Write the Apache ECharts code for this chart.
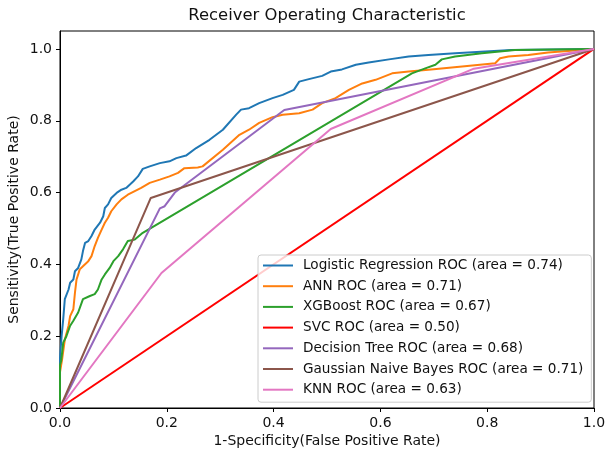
<!DOCTYPE html>
<html>
    <head>
        <meta charset="utf-8">
        <script src="https://cdn.jsdelivr.net/npm/echarts@6/dist/echarts.min.js"></script>
    </head>
    <body style="margin:0">
        <div id="main" style="width: 606px; height: 453px;"></div>
        <script>
            // ROC points (false positive rate, true positive rate)
            var lrX = [0, 0, 0.003, 0.006, 0.009, 0.016, 0.019, 0.025, 0.028, 0.034, 0.04, 0.043, 0.047, 0.053, 0.059, 0.065, 0.075, 0.081, 0.084, 0.09, 0.096, 0.106, 0.115, 0.124, 0.137, 0.146, 0.155, 0.168, 0.187, 0.205, 0.218, 0.236, 0.255, 0.28, 0.305, 0.33, 0.339, 0.354, 0.373, 0.398, 0.417, 0.438, 0.448, 0.466, 0.491, 0.507, 0.528, 0.554, 0.578, 0.616, 0.653, 0.69, 0.74, 0.845, 1];
            var lrY = [0, 0.14, 0.20, 0.247, 0.303, 0.33, 0.349, 0.358, 0.381, 0.39, 0.414, 0.437, 0.46, 0.465, 0.479, 0.497, 0.516, 0.534, 0.557, 0.567, 0.585, 0.599, 0.608, 0.613, 0.631, 0.645, 0.666, 0.673, 0.682, 0.687, 0.696, 0.703, 0.724, 0.747, 0.775, 0.817, 0.831, 0.835, 0.849, 0.863, 0.872, 0.886, 0.909, 0.916, 0.925, 0.937, 0.943, 0.956, 0.962, 0.971, 0.979, 0.983, 0.988, 0.997, 1];

            var annX = [0, 0, 0.004, 0.009, 0.016, 0.019, 0.025, 0.028, 0.031, 0.037, 0.043, 0.053, 0.059, 0.065, 0.071, 0.078, 0.084, 0.09, 0.096, 0.106, 0.115, 0.127, 0.14, 0.152, 0.168, 0.187, 0.205, 0.221, 0.233, 0.258, 0.267, 0.305, 0.336, 0.354, 0.373, 0.398, 0.417, 0.448, 0.473, 0.491, 0.516, 0.541, 0.566, 0.591, 0.622, 0.653, 0.69, 0.753, 0.815, 0.824, 0.84, 0.877, 0.914, 1];
            var annY = [0, 0.10, 0.136, 0.19, 0.229, 0.256, 0.275, 0.321, 0.358, 0.386, 0.395, 0.409, 0.423, 0.451, 0.474, 0.497, 0.516, 0.53, 0.548, 0.567, 0.581, 0.594, 0.604, 0.613, 0.627, 0.636, 0.645, 0.655, 0.668, 0.670, 0.673, 0.719, 0.761, 0.775, 0.794, 0.81, 0.817, 0.821, 0.831, 0.849, 0.863, 0.886, 0.904, 0.914, 0.932, 0.937, 0.942, 0.951, 0.96, 0.974, 0.979, 0.983, 0.99, 1];

            var xgbX = [0, 0, 0.002, 0.004, 0.006, 0.012, 0.019, 0.025, 0.034, 0.043, 0.056, 0.065, 0.071, 0.078, 0.084, 0.093, 0.10, 0.109, 0.118, 0.127, 0.14, 0.155, 0.659, 0.684, 0.703, 0.715, 0.74, 0.79, 0.852, 1];
            var xgbY = [0, 0.12, 0.13, 0.155, 0.182, 0.20, 0.229, 0.243, 0.266, 0.303, 0.312, 0.317, 0.33, 0.358, 0.372, 0.39, 0.409, 0.423, 0.442, 0.465, 0.469, 0.488, 0.932, 0.946, 0.956, 0.971, 0.979, 0.988, 0.997, 1];

            var svcX = [0, 1];
            var svcY = [0, 1];

            var dtX = [0, 0.187, 0.196, 0.215, 0.42, 1];
            var dtY = [0, 0.556, 0.562, 0.60, 0.83, 1];

            var gnbX = [0, 0.17, 1];
            var gnbY = [0, 0.585, 1];

            var knnX = [0, 0.19, 0.507, 0.775, 1];
            var knnY = [0, 0.376, 0.777, 0.945, 1];

            var names = [
                'Logistic Regression ROC (area = 0.74)',
                'ANN ROC (area = 0.71)',
                'XGBoost ROC (area = 0.67)',
                'SVC ROC (area = 0.50)',
                'Decision Tree ROC (area = 0.68)',
                'Gaussian Naive Bayes ROC (area = 0.71)',
                'KNN ROC (area = 0.63)'
            ];
            var colors = ['#1f77b4', '#ff7f0e', '#2ca02c', '#ff0000', '#9467bd', '#8c564b', '#e377c2'];
            var curves = [[lrX, lrY], [annX, annY], [xgbX, xgbY], [svcX, svcY], [dtX, dtY], [gnbX, gnbY], [knnX, knnY]];
            var ticks = [0, 0.2, 0.4, 0.6, 0.8, 1.0];

            var FONT = 'DejaVu Sans';
            var chartDom = document.getElementById('main');
            var myChart = echarts.init(chartDom);

            var seriesList = curves.map(function (c, i) {
                return {
                    type: 'line',
                    name: names[i],
                    data: c[0].map(function (x, k) { return [x, c[1][k]]; }),
                    showSymbol: false,
                    animation: false,
                    lineStyle: { width: 2, color: colors[i] },
                    itemStyle: { color: colors[i] }
                };
            });

            function axisCommon(extra) {
                return Object.assign({
                    type: 'value',
                    min: 0,
                    interval: 0.2,
                    nameLocation: 'middle',
                    nameMoveOverlap: false,
                    nameTextStyle: { fontFamily: FONT, fontSize: 14, color: '#111' },
                    splitLine: { show: false },
                    axisLine: { show: true, lineStyle: { color: '#000', width: 1 } },
                    axisTick: { show: true, inside: false, length: 4, lineStyle: { color: '#000' }, customValues: ticks },
                    axisLabel: {
                        fontFamily: FONT, fontSize: 14, color: '#111', margin: 8,
                        customValues: ticks,
                        formatter: function (v) { return v.toFixed(1); }
                    }
                }, extra);
            }

            var option = {
                backgroundColor: '#fff',
                title: {
                    text: 'Receiver Operating Characteristic',
                    left: 327,
                    top: 8,
                    textAlign: 'center',
                    padding: 0,
                    textStyle: { fontFamily: FONT, fontSize: 16.4, fontWeight: 'normal', color: '#111' }
                },
                grid: {
                    left: 60, right: 12, top: 31, bottom: 45,
                    outerBoundsMode: 'none',
                    containLabel: false,
                    show: true, borderColor: '#000', borderWidth: 1, backgroundColor: '#fff'
                },
                legend: {
                    orient: 'vertical',
                    left: 258,
                    top: 255,
                    padding: [3, 8, 5, 5],
                    itemGap: 5.7,
                    itemWidth: 30,
                    itemHeight: 2,
                    icon: 'rect',
                    backgroundColor: 'rgba(255,255,255,0.8)',
                    borderColor: '#ccc',
                    borderWidth: 1,
                    borderRadius: 3,
                    textStyle: { fontFamily: FONT, fontSize: 13.6, color: '#111', lineHeight: 15, padding: [0, 0, 0, 5] },
                    data: names.map(function (n, i) { return { name: n, itemStyle: { color: colors[i] } }; })
                },
                xAxis: axisCommon({ max: 1, name: '1-Specificity(False Positive Rate)', nameGap: 26 }),
                yAxis: axisCommon({ max: 1.05, name: 'Sensitivity(True Positive Rate)', nameGap: 39 }),
                series: seriesList
            };

            myChart.setOption(option);
        </script>
    </body>
</html>
